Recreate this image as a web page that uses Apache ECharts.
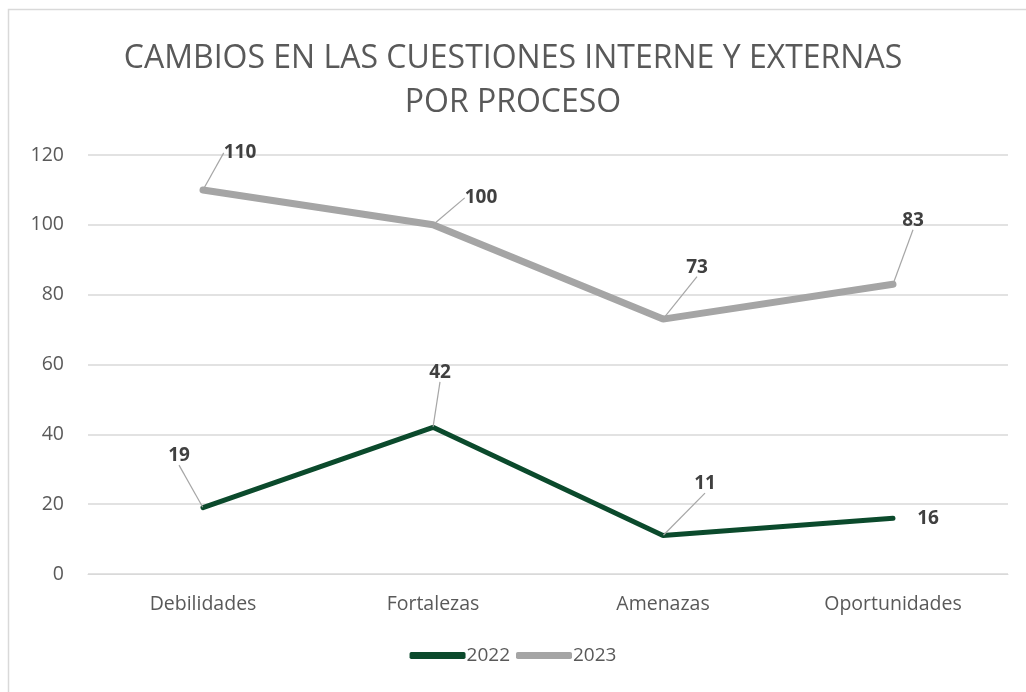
<!DOCTYPE html>
<html>
<head>
<meta charset="utf-8">
<script src="https://cdn.jsdelivr.net/npm/echarts@6/dist/echarts.min.js"></script>
<style>
  html, body { margin: 0; padding: 0; background: #fff; }
  #chart { width: 1026px; height: 692px; }
</style>
</head>
<body>
<div id="chart"></div>
<script>
const categories = ['Debilidades', 'Fortalezas', 'Amenazas', 'Oportunidades']
const values2022 = [19, 42, 11, 16]
const values2023 = [110, 100, 73, 83]
const yTicks = [0, 20, 40, 60, 80, 100, 120]

// label offsets (dx, dy) from each point, like the Excel data labels
const offs2022 = [[-24, -52], [7, -55], [42, -52], [35, 0]]
const offs2023 = [[37, -37], [48, -27], [34, -52], [20, -64]]

const font = '"Open Sans", "Noto Sans", sans-serif'
const chart = echarts.init(document.getElementById('chart'))

const labelStyle = {
  show: true,
  position: 'inside',
  fontFamily: font,
  fontSize: 19,
  fontWeight: 'bold',
  color: '#404040',
}

// the "16" label sits right of its point with no leader line
const data2022 = values2022.map((v, i) =>
  i === 3 ? { value: v, labelLine: { show: false } } : v
)

chart.setOption({
  backgroundColor: '#fff',
  animation: false,
  title: {
    text: 'CAMBIOS EN LAS CUESTIONES INTERNE Y EXTERNAS\nPOR PROCESO',
    left: 'center',
    top: 32,
    textStyle: {
      fontFamily: font,
      fontWeight: 'normal',
      fontSize: 32,
      lineHeight: 44,
      color: '#595959',
    },
  },
  graphic: [
    {
      type: 'rect',
      shape: { x: 8.5, y: 9.5, width: 1040, height: 700 },
      style: { fill: 'none', stroke: '#d9d9d9', lineWidth: 1.5 },
      silent: true,
    },
  ],
  legend: {
    bottom: 22,
    left: 'center',
    itemWidth: 56,
    itemHeight: 7,
    itemGap: 6,
    icon: 'roundRect',
    textStyle: { fontFamily: font, fontSize: 19, color: '#595959', padding: [0, 0, 0, -4] },
    data: ['2022', '2023'],
  },
  grid: { left: 88, right: 18, top: 155, bottom: 118, containLabel: false },
  xAxis: {
    type: 'category',
    data: categories,
    boundaryGap: true,
    axisLine: { lineStyle: { color: '#d9d9d9', width: 1 } },
    axisTick: { show: false },
    axisLabel: { fontFamily: font, fontSize: 19.5, color: '#595959', margin: 20 },
  },
  yAxis: {
    type: 'value',
    min: yTicks[0],
    max: yTicks[yTicks.length - 1],
    interval: 20,
    axisLine: { show: false },
    axisTick: { show: false },
    axisLabel: { fontFamily: font, fontSize: 19.5, color: '#595959', margin: 24 },
    splitLine: { lineStyle: { color: '#d9d9d9', width: 1.5 } },
  },
  series: [
    {
      name: '2022',
      type: 'line',
      data: data2022,
      symbol: 'circle',
      symbolSize: 1,
      showSymbol: true,
      color: '#0b4a2c',
      lineStyle: { width: 5, color: '#0b4a2c', cap: 'round' },
      label: labelStyle,
      labelLine: { show: true, lineStyle: { color: '#a6a6a6', width: 1.2 } },
      labelLayout: (p) => {
        const o = offs2022[p.dataIndex]
        return { dx: o[0], dy: o[1] }
      },
    },
    {
      name: '2023',
      type: 'line',
      data: values2023,
      symbol: 'circle',
      symbolSize: 1,
      showSymbol: true,
      color: '#a5a5a5',
      lineStyle: { width: 7, color: '#a5a5a5', cap: 'round' },
      label: labelStyle,
      labelLine: { show: true, lineStyle: { color: '#a6a6a6', width: 1.2 } },
      labelLayout: (p) => {
        const o = offs2023[p.dataIndex]
        return { dx: o[0], dy: o[1] }
      },
    },
  ],
})
</script>
</body>
</html>
